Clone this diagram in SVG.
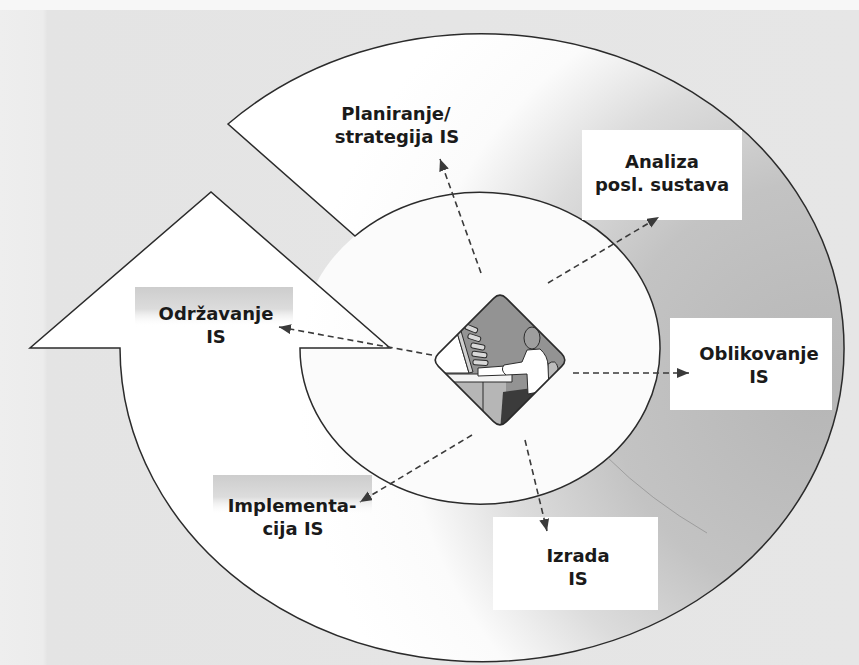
<svg xmlns="http://www.w3.org/2000/svg" width="859" height="665" viewBox="0 0 859 665">
  <defs>
    <style>
      .edge { fill: none; stroke: #2b2b2b; stroke-width: 1.5; }
      .lbl { font-family: "DejaVu Sans", Verdana, sans-serif; font-weight: bold; font-size: 18px; fill: #1a1a1a; text-anchor: middle; }
      .dash { fill: none; stroke: #3a3a3a; stroke-width: 1.6; stroke-dasharray: 6 4; marker-end: url(#tip); }
      .ink { stroke: #2b2b2b; stroke-width: 1; stroke-linejoin: round; }
    </style>
    <marker id="tip" markerUnits="userSpaceOnUse" markerWidth="13" markerHeight="11" refX="12" refY="5" orient="auto">
      <path d="M0,0 L12,5 L0,10 z" fill="#3a3a3a"/>
    </marker>
    <linearGradient id="page" x1="0" y1="0" x2="1" y2="0">
      <stop offset="0" stop-color="#eeeeee"/>
      <stop offset="0.05" stop-color="#ececec"/>
      <stop offset="0.055" stop-color="#e4e4e4"/>
      <stop offset="1" stop-color="#e6e6e6"/>
    </linearGradient>
    <radialGradient id="bandFill" gradientUnits="userSpaceOnUse" cx="820" cy="390" r="520">
      <stop offset="0" stop-color="#b6b6b6"/>
      <stop offset="0.4" stop-color="#c3c3c3"/>
      <stop offset="0.62" stop-color="#dcdcdc"/>
      <stop offset="0.8" stop-color="#fbfbfb"/>
      <stop offset="1" stop-color="#ffffff"/>
    </radialGradient>
    <linearGradient id="fadeBox" x1="0" y1="0" x2="0" y2="1">
      <stop offset="0" stop-color="#cdcdcd"/>
      <stop offset="0.55" stop-color="#dcdcdc"/>
      <stop offset="1" stop-color="#ffffff" stop-opacity="0"/>
    </linearGradient>
    <clipPath id="diamondClip">
      <path d="M493.6 298.4 Q500 292 506.4 298.4 L561.6 353.6 Q568 360 561.6 366.4 L506.4 421.6 Q500 428 493.6 421.6 L438.4 366.4 Q432 360 438.4 353.6 Z"/>
    </clipPath>
  </defs>

  <!-- page -->
  <rect x="0" y="0" width="859" height="665" fill="url(#page)"/>
  <rect x="0" y="0" width="859" height="10" fill="#f7f7f7"/>

  <!-- inner ellipse interior -->
  <ellipse cx="480" cy="348" rx="180" ry="156" fill="#fbfbfb"/>

  <!-- spiral arrow band -->
  <g id="spiral">
    <path class="edge" style="fill:url(#bandFill)"
          d="M228 124 A362 314 0 1 1 120 348 L30 348 L211 192 L390 348 L300 348 A180 156 0 1 0 355 236 Z"/>
    <path d="M607 457 Q650 500 707 533" fill="none" stroke="#808080" stroke-width="0.8" opacity="0.7"/>
  </g>

  <!-- centre: person at a computer -->
  <g id="centre">
    <g clip-path="url(#diamondClip)">
      <rect x="430" y="290" width="140" height="140" fill="#939393"/>
      <!-- under-desk area -->
      <rect x="430" y="382" width="76" height="50" fill="#b6b6b6"/>
      <line class="ink" x1="483" y1="382" x2="483" y2="430"/>
      <!-- monitor -->
      <polygon class="ink" points="420,346 456,329 469,373 420,373" fill="#ffffff"/>
      <polygon class="ink" points="456,329 461,331 473,372 469,373" fill="#d0d0d0"/>
      <!-- screen lines -->
      <g fill="#d8d8d8" class="ink">
        <rect x="465" y="326" width="13" height="5" rx="2" transform="rotate(22 471 328)"/>
        <rect x="468" y="335" width="13" height="5" rx="2" transform="rotate(18 474 337)"/>
        <rect x="471" y="344" width="14" height="5" rx="2" transform="rotate(12 478 346)"/>
        <rect x="472" y="352" width="15" height="5" rx="2" transform="rotate(8 479 354)"/>
        <rect x="473" y="360" width="15" height="5" rx="2" transform="rotate(4 480 362)"/>
      </g>
      <!-- desk -->
      <polygon class="ink" points="440,374 512,374 512,382 440,382" fill="#f4f4f4"/>
      <!-- keyboard -->
      <path class="ink" d="M478 368 L505 366 Q509 370 506 375 L478 376 Z" fill="#ffffff"/>
      <!-- chair -->
      <path class="ink" d="M548 364 Q556 358 558 368 L557 392 Q552 398 547 392 Z" fill="#bcbcbc"/>
      <!-- legs -->
      <path d="M503 392 L548 386 Q556 398 546 410 L526 424 L512 432 L500 432 Z" fill="#3b3b3b"/>
      <!-- shirt and arm -->
      <path class="ink" d="M527 350 L540 349 Q548 356 548 366 L549 390 L528 394 L527 374 L506 375 Q500 370 504 365 L522 362 Z" fill="#ffffff"/>
      <!-- head -->
      <ellipse class="ink" cx="532" cy="338" rx="8" ry="11" fill="#9e9e9e"/>
    </g>
    <path d="M493.6 298.4 Q500 292 506.4 298.4 L561.6 353.6 Q568 360 561.6 366.4 L506.4 421.6 Q500 428 493.6 421.6 L438.4 366.4 Q432 360 438.4 353.6 Z" fill="none" stroke="#2b2b2b" stroke-width="1.6"/>
  </g>

  <!-- stage labels -->
  <g id="planiranje">
    <text class="lbl" x="396" y="120">Planiranje/</text>
    <text class="lbl" x="397" y="143">strategija IS</text>
  </g>
  <g id="analiza">
    <rect x="582" y="130" width="160" height="90" fill="#ffffff"/>
    <text class="lbl" x="662" y="168">Analiza</text>
    <text class="lbl" x="662" y="191">posl. sustava</text>
  </g>
  <g id="oblikovanje">
    <rect x="670" y="318" width="162" height="92" fill="#ffffff"/>
    <text class="lbl" x="759" y="360">Oblikovanje</text>
    <text class="lbl" x="759" y="383">IS</text>
  </g>
  <g id="izrada">
    <rect x="493" y="517" width="165" height="93" fill="#ffffff"/>
    <text class="lbl" x="578" y="562">Izrada</text>
    <text class="lbl" x="578" y="585">IS</text>
  </g>
  <g id="implementacija">
    <rect x="213" y="475" width="159" height="40" fill="url(#fadeBox)"/>
    <text class="lbl" x="292" y="512">Implementa-</text>
    <text class="lbl" x="293" y="535">cija IS</text>
  </g>
  <g id="odrzavanje">
    <rect x="135" y="287" width="158" height="40" fill="url(#fadeBox)"/>
    <text class="lbl" x="216" y="320">Održavanje</text>
    <text class="lbl" x="216" y="343">IS</text>
  </g>

  <!-- connectors, drawn over the label boxes -->
  <g id="connectors">
    <line class="dash" x1="481" y1="273" x2="440" y2="159"/>
    <line class="dash" x1="548" y1="283" x2="659" y2="217"/>
    <line class="dash" x1="432" y1="355" x2="279" y2="327"/>
    <line class="dash" x1="573" y1="373" x2="689" y2="373"/>
    <line class="dash" x1="472" y1="435" x2="360" y2="502"/>
    <line class="dash" x1="525" y1="440" x2="547" y2="531"/>
  </g>
</svg>
